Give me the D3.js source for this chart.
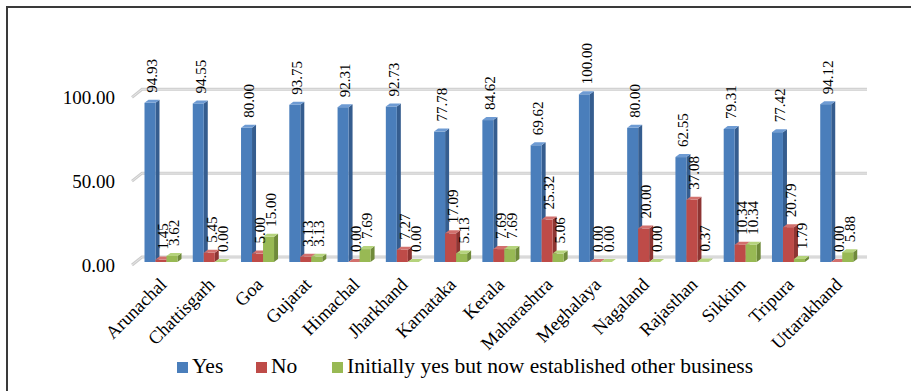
<!DOCTYPE html>
<html>
<head>
<meta charset="utf-8">
<script src="https://cdn.jsdelivr.net/npm/d3@7"></script>
<style>
html,body{margin:0;padding:0;background:#fff;}
svg{display:block;}
svg text{font-family:"Liberation Serif","Tinos","Times New Roman","DejaVu Serif",serif;}
</style>
</head>
<body>
<svg id="chart" width="911" height="391"></svg>
<script>
const categories = ["Arunachal","Chattisgarh","Goa","Gujarat","Himachal","Jharkhand","Karnataka","Kerala","Maharashtra","Meghalaya","Nagaland","Rajasthan","Sikkim","Tripura","Uttarakhand"];
const seriesNames = ["Yes","No","Initially yes but now established other business"];
const yesValues = [94.93,94.55,80.00,93.75,92.31,92.73,77.78,84.62,69.62,100.00,80.00,62.55,79.31,77.42,94.12];
const noValues = [1.45,5.45,5.00,3.13,0.00,7.27,17.09,7.69,25.32,0.00,20.00,37.08,10.34,20.79,0.00];
const otherValues = [3.62,0.00,15.00,3.13,7.69,0.00,5.13,7.69,5.06,0.00,0.00,0.37,10.34,1.79,5.88];
const yTicks = [0,50,100];

const seriesValues = [yesValues, noValues, otherValues];
const colors = [
  {front:"#4a7ebb", side:"#355d8f", top:"#6e9bd3"},
  {front:"#be4b48", side:"#8e3533", top:"#d2706d"},
  {front:"#98b954", side:"#6f8a3a", top:"#b5d37c"}
];

const svg = d3.select("#chart");

// frame
svg.append("path").attr("d","M7,391 L7,7 L911,7").attr("fill","none").attr("stroke","#3a3a3a").attr("stroke-width",2);

const x = d3.scaleBand().domain(categories).range([143,867]);
const xs = d3.scaleBand().domain(seriesNames).range([1.5,34.5]);
const y = d3.scaleLinear().domain([0,100]).range([262,94.3]);
const dx = 4, dy = 3, backDy = 5;

// gridlines (back wall) + side diagonal
const grid = svg.append("g");
yTicks.forEach(t => {
  const yy = y(t);
  grid.append("path")
    .attr("d", `M132,${yy+3} L142,${yy-backDy} L867,${yy-backDy}`)
    .attr("fill","none").attr("stroke","#cdcdcd").attr("stroke-width",3);
  grid.append("path")
    .attr("d", `M132,${yy+3} L142,${yy-backDy} L867,${yy-backDy}`)
    .attr("fill","none").attr("stroke","#e6e6e6").attr("stroke-width",1);
});

// y axis labels
const yAxis = d3.axisLeft(y).tickValues(yTicks).tickFormat(d3.format(".2f")).tickSize(0).tickPadding(0);
const ag = svg.append("g").attr("transform","translate(115,3)").call(yAxis);
ag.select(".domain").remove();
ag.attr("font-family",null);
ag.selectAll("text").style("font-size","19px").attr("fill","#000");

// bars
const bars = svg.append("g");
categories.forEach((c,ci) => {
  seriesNames.forEach((s,si) => {
    const v = seriesValues[si][ci];
    const x0 = x(c) + xs(s);
    const w = xs.bandwidth();
    const yt = y(v), yb = y(0);
    const col = colors[si];
    bars.append("path")
      .attr("d",`M${x0+w},${yt} L${x0+w+dx},${yt-dy} L${x0+w+dx},${yb-dy} L${x0+w},${yb} Z`)
      .attr("fill",col.side);
    bars.append("rect").attr("x",x0).attr("y",yt).attr("width",w).attr("height",Math.max(0,yb-yt))
      .attr("fill",col.front);
    bars.append("path")
      .attr("d",`M${x0},${yt} L${x0+dx},${yt-dy} L${x0+w+dx},${yt-dy} L${x0+w},${yt} Z`)
      .attr("fill",col.top);
  });
});

// value labels
const labels = svg.append("g");
categories.forEach((c,ci) => {
  seriesNames.forEach((s,si) => {
    const v = seriesValues[si][ci];
    const cx = x(c) + xs(s) + xs.bandwidth()/2 + 2;
    labels.append("text")
      .attr("transform",`translate(${cx},${y(v)-10}) rotate(-90)`)
      .attr("dy","0.35em")
      .attr("text-anchor","start")
      .style("font-size","15px").attr("fill","#000")
      .text(d3.format(".2f")(v));
  });
});

// category labels
const cg = svg.append("g");
categories.forEach(c => {
  const gc = x(c) + (xs.range()[0]+xs.range()[1])/2;
  cg.append("text")
    .attr("transform",`translate(${gc+2},${281}) rotate(-45)`)
    .attr("dy","0.35em")
    .attr("text-anchor","end")
    .style("font-size","18.5px").attr("fill","#000")
    .text(c);
});

// legend
const legendX = [177, 256, 332];
const lg = svg.append("g");
seriesNames.forEach((s,si) => {
  lg.append("rect").attr("x",legendX[si]).attr("y",362).attr("width",11).attr("height",11).attr("fill",colors[si].front);
  lg.append("text").attr("x",legendX[si]+15).attr("y",373)
    .style("font-size","21.5px").attr("fill","#000")
    .text(s);
});
</script>
</body>
</html>
